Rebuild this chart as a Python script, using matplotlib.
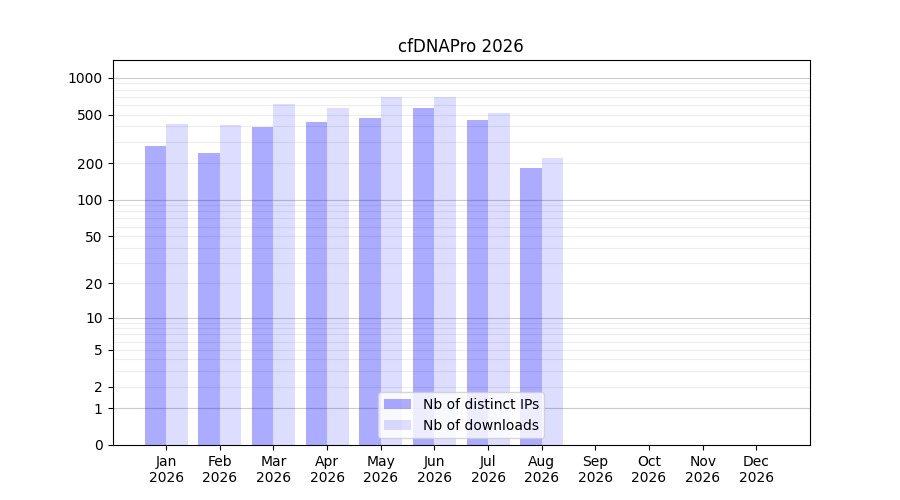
import matplotlib
matplotlib.use("Agg")
import matplotlib.pyplot as plt
import numpy as np

months = ["Jan", "Feb", "Mar", "Apr", "May", "Jun",
          "Jul", "Aug", "Sep", "Oct", "Nov", "Dec"]
year = 2026
distinct_ips = [279, 241, 393, 432, 466, 572, 448, 182]
downloads = [423, 408, 606, 562, 695, 695, 511, 219]
y_ticks = [0, 1, 2, 5, 10, 20, 50, 100, 200, 500, 1000]


def fwd(x):
    return np.log10(1 + np.asarray(x, dtype=float))


def inv(y):
    return 10 ** np.asarray(y, dtype=float) - 1


fig, ax = plt.subplots(figsize=(9, 5), dpi=100)
ax.set_yscale("function", functions=(fwd, inv))

x = np.arange(len(distinct_ips))
ax.bar(x, distinct_ips, width=-0.4, align="edge", color="blue", alpha=0.33,
       label="Nb of distinct IPs")
ax.bar(x, downloads, width=0.4, align="edge", color="blue", alpha=0.135,
       label="Nb of downloads")

# grid lines: decades darker, the rest lighter
for dec in [1, 10, 100]:
    for k in range(2, 10):
        ax.axhline(dec * k, color="0.93", lw=0.8, zorder=0)
for v in [1, 10, 100, 1000]:
    ax.axhline(v, color="0.8", lw=0.8, zorder=0)

ax.set_yticks(y_ticks)
ax.set_yticklabels([str(t) for t in y_ticks])
ax.set_ylim(0, 1400)
ax.set_xticks(np.arange(len(months)))
ax.set_xticklabels([f"{m}\n{year}" for m in months])
ax.set_xlim(-1, 12)
ax.set_title(f"cfDNAPro {year}")
ax.legend(loc="lower center")

fig.savefig("out.png")
